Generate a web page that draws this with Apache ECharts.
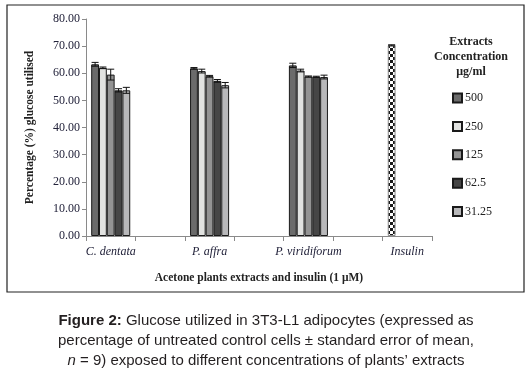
<!DOCTYPE html>
<html>
<head>
<meta charset="utf-8">
<script src="https://cdn.jsdelivr.net/npm/echarts@6/dist/echarts.min.js"></script>
<style>html,body{margin:0;padding:0;background:#fff;}#c{width:532px;height:373px;}</style>
</head>
<body>
<div id="c"></div>
<script>
const categories = ['C. dentata', '', 'P. affra', '', 'P. viridiforum', '', 'Insulin'];
const concLabels = ['500', '250', '125', '62.5', '31.25'];
const yTicks = [0, 10, 20, 30, 40, 50, 60, 70, 80];

const v500  = [63.3, '-', 61.8, '-', 62.9, '-', 70.3];
const v250  = [62.0, '-', 60.8, '-', 61.0, '-', '-'];
const v125  = [59.5, '-', 58.9, '-', 58.8, '-', '-'];
const v62_5 = [53.7, '-', 57.2, '-', 58.7, '-', '-'];
const v31_25= [53.7, '-', 55.6, '-', 58.6, '-', '-'];

const e500  = [0.7, '-', 0.3, '-', 0.8, '-', 0.2];
const e250  = [0.3, '-', 0.7, '-', 0.5, '-', '-'];
const e125  = [2.0, '-', 0.3, '-', 0.2, '-', '-'];
const e62_5 = [0.6, '-', 0.5, '-', 0.2, '-', '-'];
const e31_25= [1.1, '-', 1.0, '-', 0.7, '-', '-'];

const seriesValues = [v500, v250, v125, v62_5, v31_25];
const seriesErrors = [e500, e250, e125, e62_5, e31_25];
const colors = ['#6b6b6b', '#e1e2e0', '#939393', '#464646', '#b8b8ba'];
const CAT_GAP = 0.21;

// checkered pattern for insulin
const pc = document.createElement('canvas');
pc.width = 6; pc.height = 6;
const pctx = pc.getContext('2d');
pctx.fillStyle = '#fff'; pctx.fillRect(0, 0, 6, 6);
pctx.fillStyle = '#1a1a1a'; pctx.fillRect(0, 0, 3, 3); pctx.fillRect(3, 3, 3, 3);

const chart = echarts.init(document.getElementById('c'), null, {renderer: 'canvas'});

const barSeries = concLabels.map((name, si) => ({
  name: name,
  type: 'bar',
  barGap: 0,
  barCategoryGap: (CAT_GAP * 100) + '%',
  data: seriesValues[si].map((v, i) => {
    if (v === '-') return '-';
    if (categories[i] === 'Insulin') {
      return {value: v, itemStyle: {color: {image: pc, repeat: 'repeat'}, borderColor: '#888', borderWidth: 1}};
    }
    return v;
  }),
  itemStyle: {color: colors[si], borderColor: '#1a1a1a', borderWidth: 1},
  emphasis: {disabled: true},
  z: 2
}));

const errSeries = concLabels.map((name, si) => ({
  type: 'custom',
  z: 5,
  silent: true,
  data: seriesValues[si].map((v, i) => v === '-' ? null : [i, v, seriesErrors[si][i]]).filter(d => d),
  renderItem: function (params, api) {
    const cat = api.value(0), v = api.value(1), e = api.value(2);
    const bandW = api.size([1, 0])[0];
    const bw = bandW * (1 - CAT_GAP) / 5;
    const cx = api.coord([cat, v])[0] + (si - 2) * bw;
    const top = api.coord([cat, v + e])[1];
    const bot = api.coord([cat, v - e])[1];
    const hw = bw * 0.45;
    const st = {stroke: '#111', lineWidth: 1};
    return {type: 'group', children: [
      {type: 'line', shape: {x1: cx, y1: top, x2: cx, y2: bot}, style: st},
      {type: 'line', shape: {x1: cx - hw, y1: top, x2: cx + hw, y2: top}, style: st},
      {type: 'line', shape: {x1: cx - hw, y1: bot, x2: cx + hw, y2: bot}, style: st}
    ]};
  }
}));

const serif = 'Liberation Serif';

chart.setOption({
  animation: false,
  backgroundColor: '#fff',
  grid: {left: 86, right: 100, top: 19, bottom: 137, containLabel: false},
  legend: {
    orient: 'vertical',
    left: 447,
    top: 87,
    itemWidth: 9,
    itemHeight: 9,
    itemGap: 16.4,
    icon: 'rect',
    selectedMode: false,
    data: concLabels,
    textStyle: {fontFamily: serif, fontSize: 12, color: '#222', padding: [0, 0, 0, -2]}
  },
  xAxis: {
    type: 'category',
    data: categories,
    name: 'Acetone plants extracts and insulin (1 μM)',
    nameLocation: 'middle',
    nameGap: 36,
    nameTextStyle: {fontFamily: serif, fontWeight: 'bold', fontSize: 11.5, color: '#222'},
    axisLine: {lineStyle: {color: '#8a8a8a', width: 1}},
    axisTick: {show: true, interval: 0, length: 5, lineStyle: {color: '#8a8a8a'}},
    axisLabel: {interval: 0, fontFamily: serif, fontStyle: 'italic', fontSize: 12, color: '#22223a', margin: 10}
  },
  yAxis: {
    type: 'value',
    min: yTicks[0],
    max: yTicks[yTicks.length - 1],
    interval: yTicks[1] - yTicks[0],
    name: 'Percentage (%) glucose utilised',
    nameLocation: 'middle',
    nameGap: 50,
    nameTextStyle: {fontFamily: serif, fontWeight: 'bold', fontSize: 11.5, color: '#222'},
    splitLine: {show: false},
    axisLine: {show: true, lineStyle: {color: '#8a8a8a', width: 1}},
    axisTick: {show: true, length: 4, lineStyle: {color: '#8a8a8a'}},
    axisLabel: {fontFamily: serif, fontSize: 12, color: '#22223a', margin: 6, formatter: v => v.toFixed(2)}
  },
  graphic: [
    {type: 'rect', shape: {x: 7, y: 5, width: 517, height: 287}, style: {fill: 'none', stroke: '#222', lineWidth: 1.2}, z: 0},
    {type: 'text', style: {text: 'Extracts\nConcentration\nμg/ml', x: 471, y: 34, textAlign: 'center', font: 'bold 12px "Liberation Serif"', fill: '#222', lineHeight: 15}},
    {type: 'text', style: {
      x: 266, y: 311, textAlign: 'center', lineHeight: 20,
      text: '{b|Figure 2:} Glucose utilized in 3T3-L1 adipocytes (expressed as\npercentage of untreated control cells ± standard error of mean,\n{i|n} = 9) exposed to different concentrations of plants’ extracts',
      font: '15px "Liberation Sans"', fill: '#231f20',
      rich: {
        b: {fontWeight: 'bold', fontFamily: 'Liberation Sans', fontSize: 15, fill: '#231f20'},
        i: {fontStyle: 'italic', fontFamily: 'Liberation Sans', fontSize: 15, fill: '#231f20'}
      }
    }}
  ],
  series: barSeries.concat(errSeries)
});
</script>
</body>
</html>
